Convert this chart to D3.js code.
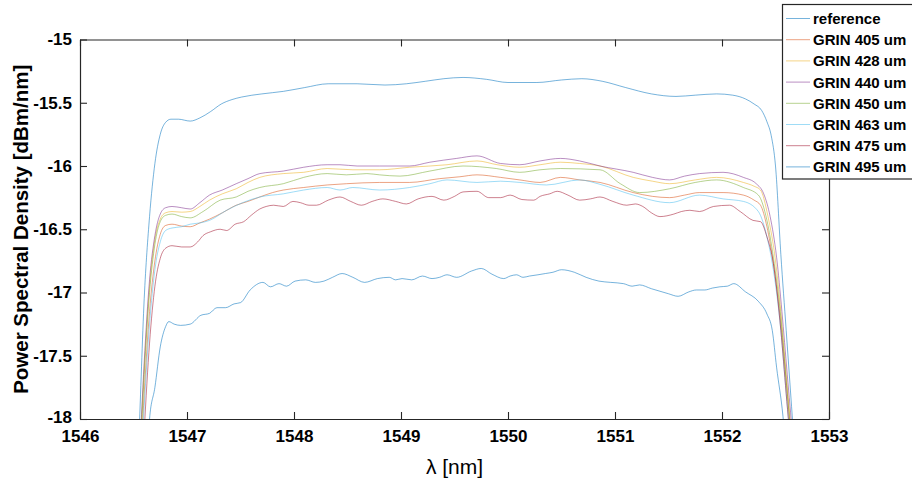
<!DOCTYPE html>
<html>
<head>
<meta charset="utf-8">
<script src="https://cdn.jsdelivr.net/npm/d3@7"></script>
<style>
  body { margin: 0; background: #fff; }
  svg { display: block; font-family: "Liberation Sans", Arial, Helvetica, sans-serif; }
</style>
</head>
<body>
<div id="chart"></div>
<script>
// wavelength [nm], power spectral density [dBm/nm]
var reference = [[1546.45,-20],[1546.50,-19.0],[1546.55,-18.15],[1546.60,-17.05],[1546.65,-16.4],[1546.70,-15.98],[1546.75,-15.75],[1546.80,-15.655],
  [1546.85,-15.63],[1546.92,-15.63],[1547.03,-15.645],[1547.12,-15.62],[1547.22,-15.57],[1547.32,-15.51],[1547.42,-15.475],[1547.51,-15.455],
  [1547.70,-15.43],[1547.90,-15.41],[1548.10,-15.38],[1548.32,-15.35],[1548.59,-15.35],[1548.85,-15.36],[1549.05,-15.35],[1549.23,-15.33],
  [1549.40,-15.31],[1549.58,-15.30],[1549.80,-15.315],[1550.00,-15.34],[1550.27,-15.34],[1550.50,-15.32],[1550.69,-15.31],[1550.88,-15.33],
  [1551.10,-15.38],[1551.34,-15.43],[1551.57,-15.45],[1551.75,-15.44],[1551.95,-15.43],[1552.10,-15.44],[1552.22,-15.47],[1552.30,-15.51],
  [1552.37,-15.56],[1552.42,-15.65],[1552.46,-15.76],[1552.50,-16.0],[1552.55,-16.7],[1552.60,-17.3],[1552.65,-17.9],[1552.70,-18.5],[1552.75,-19.2]];

var grin405 = [[1546.50,-19.5],[1546.55,-18.6],[1546.60,-17.8],[1546.65,-17.15],[1546.70,-16.75],[1546.75,-16.54],[1546.80,-16.47],[1546.86,-16.46],
  [1546.95,-16.475],[1547.03,-16.48],[1547.12,-16.45],[1547.21,-16.42],[1547.33,-16.37],[1547.46,-16.31],[1547.57,-16.28],[1547.68,-16.245],
  [1547.80,-16.21],[1547.90,-16.19],[1548.09,-16.17],[1548.31,-16.15],[1548.49,-16.14],[1548.80,-16.13],[1549.08,-16.13],[1549.36,-16.10],
  [1549.55,-16.085],[1549.71,-16.07],[1549.93,-16.09],[1550.11,-16.11],[1550.30,-16.13],[1550.49,-16.09],[1550.67,-16.11],[1550.86,-16.13],
  [1551.17,-16.21],[1551.35,-16.24],[1551.51,-16.25],[1551.65,-16.23],[1551.79,-16.21],[1552.01,-16.21],[1552.20,-16.23],[1552.30,-16.27],
  [1552.36,-16.31],[1552.42,-16.48],[1552.48,-16.77],[1552.55,-17.25],[1552.60,-17.7],[1552.65,-18.2],[1552.70,-18.8]];

var grin428 = [[1546.50,-19.3],[1546.55,-18.45],[1546.60,-17.6],[1546.65,-16.95],[1546.70,-16.58],[1546.75,-16.42],[1546.80,-16.37],[1546.86,-16.36],
  [1546.95,-16.365],[1547.03,-16.36],[1547.12,-16.32],[1547.21,-16.27],[1547.33,-16.22],[1547.46,-16.18],[1547.57,-16.13],[1547.68,-16.09],
  [1547.90,-16.06],[1548.09,-16.05],[1548.31,-16.02],[1548.55,-16.03],[1548.80,-16.03],[1549.08,-16.01],[1549.43,-15.99],[1549.71,-15.96],
  [1549.90,-15.99],[1550.11,-16.01],[1550.30,-15.99],[1550.49,-15.97],[1550.67,-15.98],[1550.86,-16.00],[1551.17,-16.09],[1551.35,-16.12],
  [1551.51,-16.14],[1551.75,-16.11],[1551.95,-16.09],[1552.20,-16.13],[1552.30,-16.16],[1552.36,-16.19],[1552.43,-16.40],[1552.50,-16.75],
  [1552.55,-17.15],[1552.60,-17.65],[1552.65,-18.15],[1552.70,-18.8]];

var grin440 = [[1546.50,-19.2],[1546.55,-18.4],[1546.60,-17.55],[1546.65,-16.9],[1546.70,-16.55],[1546.75,-16.38],[1546.80,-16.33],[1546.86,-16.32],
  [1546.95,-16.33],[1547.03,-16.34],[1547.12,-16.29],[1547.21,-16.23],[1547.33,-16.19],[1547.46,-16.14],[1547.57,-16.10],[1547.68,-16.06],
  [1547.90,-16.04],[1548.09,-16.01],[1548.31,-15.99],[1548.43,-15.99],[1548.59,-16.00],[1548.80,-16.00],[1549.08,-16.00],[1549.27,-15.97],
  [1549.52,-15.94],[1549.71,-15.92],[1549.93,-15.98],[1550.11,-15.99],[1550.30,-15.96],[1550.49,-15.94],[1550.67,-15.96],[1550.86,-16.00],
  [1551.17,-16.05],[1551.35,-16.09],[1551.51,-16.11],[1551.65,-16.08],[1551.79,-16.06],[1552.01,-16.05],[1552.20,-16.09],[1552.32,-16.14],
  [1552.39,-16.22],[1552.45,-16.40],[1552.51,-16.72],[1552.56,-17.15],[1552.61,-17.65],[1552.66,-18.15],[1552.71,-18.8]];

var grin450 = [[1546.50,-19.3],[1546.55,-18.5],[1546.60,-17.65],[1546.65,-17.0],[1546.70,-16.62],[1546.75,-16.44],[1546.80,-16.39],[1546.86,-16.38],
  [1546.95,-16.40],[1547.03,-16.41],[1547.15,-16.36],[1547.31,-16.27],[1547.46,-16.245],[1547.57,-16.20],[1547.68,-16.17],[1547.90,-16.14],
  [1548.09,-16.09],[1548.31,-16.06],[1548.49,-16.07],[1548.68,-16.06],[1548.80,-16.07],[1548.99,-16.08],[1549.27,-16.04],[1549.58,-16.00],
  [1549.89,-16.02],[1550.11,-16.05],[1550.30,-16.03],[1550.49,-16.02],[1550.86,-16.03],[1551.05,-16.14],[1551.23,-16.21],[1551.51,-16.18],
  [1551.75,-16.13],[1551.95,-16.11],[1552.20,-16.17],[1552.34,-16.23],[1552.42,-16.43],[1552.48,-16.72],[1552.55,-17.2],[1552.60,-17.7],
  [1552.65,-18.2],[1552.70,-18.8]];

var grin463 = [[1546.50,-19.5],[1546.55,-18.7],[1546.60,-17.9],[1546.65,-17.25],[1546.70,-16.82],[1546.75,-16.6],[1546.80,-16.51],[1546.86,-16.49],
  [1546.95,-16.48],[1547.03,-16.46],[1547.12,-16.45],[1547.21,-16.43],[1547.37,-16.35],[1547.52,-16.29],[1547.68,-16.245],[1547.90,-16.22],
  [1548.09,-16.19],[1548.31,-16.17],[1548.43,-16.19],[1548.55,-16.17],[1548.80,-16.19],[1549.08,-16.17],[1549.27,-16.14],[1549.43,-16.11],
  [1549.71,-16.13],[1549.93,-16.12],[1550.11,-16.13],[1550.36,-16.15],[1550.67,-16.11],[1550.86,-16.145],[1551.17,-16.23],[1551.51,-16.29],
  [1551.79,-16.23],[1552.01,-16.26],[1552.20,-16.28],[1552.34,-16.36],[1552.42,-16.56],[1552.48,-16.82],[1552.55,-17.3],[1552.60,-17.8],
  [1552.65,-18.3],[1552.70,-18.9]];

var grin475 = [[1546.50,-19.8],[1546.55,-19.0],[1546.60,-18.1],[1546.65,-17.4],[1546.70,-16.95],[1546.75,-16.73],[1546.80,-16.65],[1546.86,-16.63],
  [1546.95,-16.64],[1547.03,-16.64],[1547.10,-16.6],[1547.15,-16.55],[1547.22,-16.52],[1547.31,-16.50],[1547.37,-16.51],[1547.45,-16.46],
  [1547.53,-16.44],[1547.60,-16.39],[1547.68,-16.34],[1547.74,-16.32],[1547.81,-16.31],[1547.90,-16.32],[1547.99,-16.28],[1548.06,-16.29],
  [1548.14,-16.31],[1548.21,-16.31],[1548.32,-16.27],[1548.43,-16.245],[1548.53,-16.28],[1548.63,-16.31],[1548.73,-16.28],[1548.83,-16.26],
  [1548.95,-16.28],[1549.05,-16.30],[1549.16,-16.26],[1549.29,-16.24],[1549.40,-16.27],[1549.50,-16.24],[1549.58,-16.205],[1549.71,-16.20],
  [1549.82,-16.25],[1549.93,-16.25],[1550.02,-16.23],[1550.13,-16.265],[1550.24,-16.27],[1550.30,-16.24],[1550.39,-16.22],[1550.46,-16.20],
  [1550.56,-16.23],[1550.67,-16.27],[1550.77,-16.26],[1550.86,-16.245],[1550.98,-16.28],[1551.11,-16.31],[1551.19,-16.30],[1551.26,-16.32],
  [1551.34,-16.37],[1551.42,-16.40],[1551.55,-16.38],[1551.62,-16.36],[1551.70,-16.35],[1551.79,-16.36],[1551.92,-16.32],[1552.07,-16.31],
  [1552.17,-16.36],[1552.29,-16.43],[1552.36,-16.44],[1552.42,-16.56],[1552.48,-16.77],[1552.55,-17.3],[1552.60,-17.8],[1552.65,-18.3],[1552.70,-18.9]];

var grin495 = [[1546.55,-19.8],[1546.60,-18.8],[1546.65,-18.0],[1546.70,-17.75],[1546.75,-17.43],[1546.80,-17.27],[1546.83,-17.23],[1546.88,-17.25],
  [1546.94,-17.26],[1547.03,-17.25],[1547.13,-17.18],[1547.21,-17.165],[1547.28,-17.12],[1547.36,-17.12],[1547.44,-17.09],[1547.50,-17.08],
  [1547.59,-16.98],[1547.71,-16.92],[1547.78,-16.955],[1547.86,-16.93],[1547.93,-16.95],[1548.01,-16.91],[1548.11,-16.90],[1548.20,-16.92],
  [1548.28,-16.91],[1548.36,-16.88],[1548.45,-16.85],[1548.55,-16.88],[1548.66,-16.92],[1548.78,-16.89],[1548.89,-16.88],[1548.95,-16.90],
  [1549.01,-16.89],[1549.10,-16.90],[1549.20,-16.87],[1549.29,-16.89],[1549.36,-16.88],[1549.43,-16.86],[1549.52,-16.88],[1549.66,-16.83],
  [1549.75,-16.81],[1549.85,-16.855],[1549.96,-16.89],[1550.02,-16.87],[1550.08,-16.86],[1550.14,-16.88],[1550.20,-16.87],[1550.28,-16.86],
  [1550.35,-16.85],[1550.42,-16.84],[1550.50,-16.82],[1550.62,-16.84],[1550.73,-16.88],[1550.85,-16.91],[1550.96,-16.92],[1551.08,-16.93],
  [1551.16,-16.95],[1551.23,-16.94],[1551.34,-16.97],[1551.42,-16.99],[1551.50,-17.01],[1551.59,-17.03],[1551.69,-16.995],[1551.76,-16.98],
  [1551.84,-16.98],[1551.91,-16.965],[1551.98,-16.955],[1552.05,-16.95],[1552.11,-16.93],[1552.22,-16.995],[1552.34,-17.07],[1552.42,-17.17],
  [1552.47,-17.30],[1552.51,-17.59],[1552.57,-17.98],[1552.62,-18.5],[1552.67,-19.2]];

var seriesNames = ["reference", "GRIN 405 um", "GRIN 428 um", "GRIN 440 um", "GRIN 450 um", "GRIN 463 um", "GRIN 475 um", "GRIN 495 um"];
var seriesData = [reference, grin405, grin428, grin440, grin450, grin463, grin475, grin495];
var colors = ["#0072BD", "#D95319", "#EDB120", "#7E2F8E", "#77AC30", "#4DBEEE", "#A2142F", "#0072BD"];

var xTicks = [1546, 1547, 1548, 1549, 1550, 1551, 1552, 1553];
var yTicks = [-18, -17.5, -17, -16.5, -16, -15.5, -15];

var W = 912, H = 479;
var box = {left: 80, right: 829, top: 39.5, bottom: 419};
var axisColor = "#262626";

var svg = d3.select("#chart").append("svg")
    .attr("width", W)
    .attr("height", H);

var x = d3.scaleLinear().domain([1546, 1553]).range([box.left, box.right]);
var y = d3.scaleLinear().domain([-18, -15]).range([box.bottom, box.top]);

svg.append("clipPath").attr("id", "plotclip")
  .append("rect")
  .attr("x", box.left).attr("y", box.top)
  .attr("width", box.right - box.left).attr("height", box.bottom - box.top);

var line = d3.line()
    .x(function(d) { return x(d[0]); })
    .y(function(d) { return y(d[1]); })
    .curve(d3.curveMonotoneX);

svg.append("g").attr("clip-path", "url(#plotclip)")
  .selectAll("path")
  .data(seriesData)
  .enter().append("path")
  .attr("d", line)
  .style("fill", "none")
  .style("stroke", function(d, i) { return colors[i]; })
  .style("stroke-width", 0.9)
  .style("stroke-opacity", 0.6);

// axes, ticks pointing inward like matlab
var gx = svg.append("g").attr("transform", "translate(0," + box.bottom + ")")
  .call(d3.axisBottom(x).tickValues(xTicks).tickFormat(d3.format("d")).tickSizeInner(-7).tickSizeOuter(0).tickPadding(11));
var gxTop = svg.append("g").attr("transform", "translate(0," + box.top + ")")
  .call(d3.axisTop(x).tickValues(xTicks).tickFormat("").tickSizeInner(-7).tickSizeOuter(0));
var gy = svg.append("g").attr("transform", "translate(" + box.left + ",0)")
  .call(d3.axisLeft(y).tickValues(yTicks).tickFormat(function(d) { return String(d); }).tickSizeInner(-7).tickSizeOuter(0).tickPadding(8));
var gyRight = svg.append("g").attr("transform", "translate(" + box.right + ",0)")
  .call(d3.axisRight(y).tickValues(yTicks).tickFormat("").tickSizeInner(-7).tickSizeOuter(0));

[gx, gxTop, gy, gyRight].forEach(function(g) {
  g.select(".domain").style("stroke", axisColor).style("stroke-width", 1.2);
  g.selectAll(".tick line").style("stroke", axisColor).style("stroke-width", 1.1);
  g.selectAll(".tick text")
    .style("fill", "#000")
    .style("font-size", "17px")
    .style("font-weight", "bold")
    .style("font-family", "'Liberation Sans', Arial, sans-serif");
});

// lift the bottom y label a little so it clears the first x label
gy.selectAll(".tick text").filter(function(d) { return d === -18; }).attr("dy", "0.2em");

// axis labels
svg.append("text")
  .attr("x", (box.left + box.right) / 2)
  .attr("y", 474)
  .attr("text-anchor", "middle")
  .style("font-size", "21px")
  .text("\u03bb [nm]");

svg.append("text")
  .attr("transform", "translate(28," + ((box.top + box.bottom) / 2) + ") rotate(-90)")
  .attr("text-anchor", "middle")
  .style("font-size", "20.5px")
  .style("font-weight", "bold")
  .text("Power Spectral Density [dBm/nm]");

// legend
var legend = svg.append("g");
legend.append("rect")
  .attr("x", 782.5).attr("y", 4.5)
  .attr("width", 150).attr("height", 174.5)
  .style("fill", "#fff")
  .style("stroke", axisColor)
  .style("stroke-width", 1.2);

var rows = legend.selectAll("g.row")
  .data(seriesNames)
  .enter().append("g")
  .attr("class", "row")
  .attr("transform", function(d, i) { return "translate(0," + (18.5 + i * 21.2) + ")"; });

rows.append("line")
  .attr("x1", 786).attr("x2", 810)
  .style("stroke", function(d, i) { return colors[i]; })
  .style("stroke-width", 0.9)
  .style("stroke-opacity", 0.6);

rows.append("text")
  .attr("x", 813)
  .attr("dy", "0.36em")
  .style("font-size", "15px")
  .style("font-weight", "bold")
  .text(function(d) { return d; });
</script>
</body>
</html>
